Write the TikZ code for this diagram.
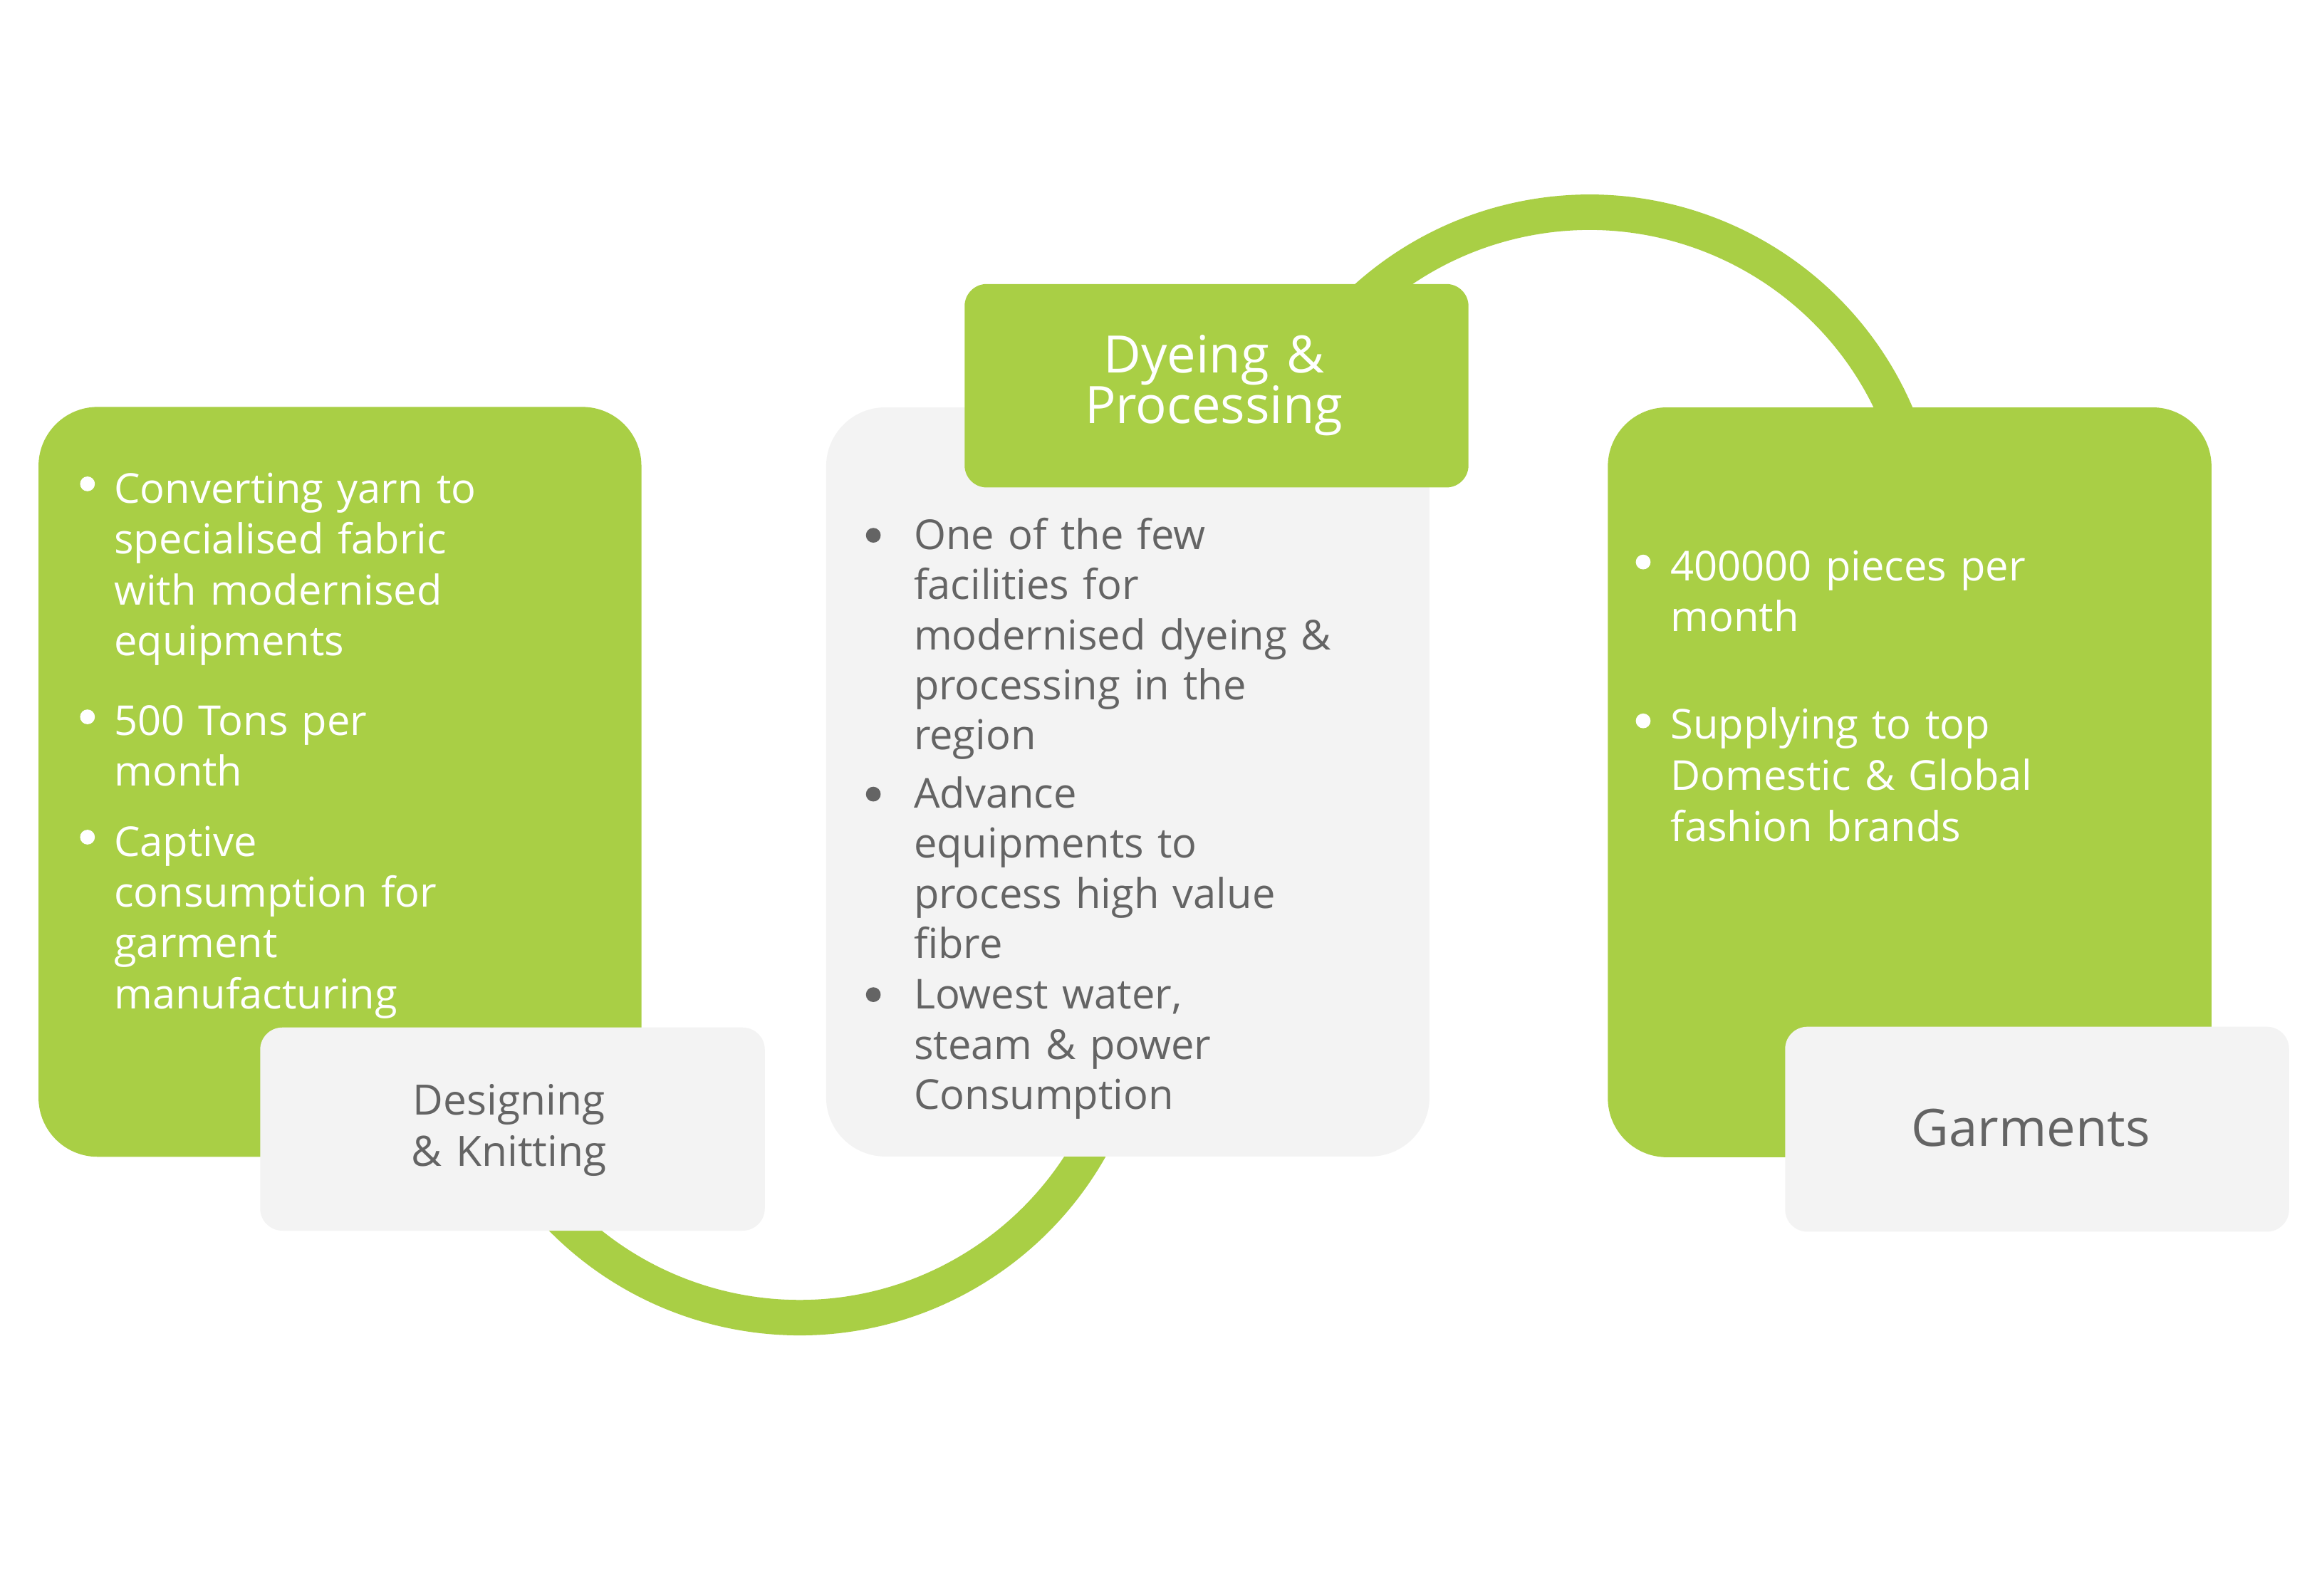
\documentclass[tikz,border=0pt]{standalone}
\usepackage{fontspec}
\setmainfont{Open Sans}
\definecolor{leaf}{HTML}{A9CF45}
\definecolor{panel}{HTML}{F3F3F3}
\definecolor{ink}{HTML}{646464}
\begin{document}
\begin{tikzpicture}[x=1mm,y=1mm,
  ring/.style={draw=leaf,line width=24mm},
  bigbox/.style={rounded corners=40mm,minimum width=408mm,minimum height=507.5mm,anchor=south west,inner sep=0pt,draw=none},
  tagbox/.style={rounded corners=15mm,minimum width=341mm,minimum height=138mm,anchor=south west,inner sep=0pt,draw=none},
  greenfill/.style={fill=leaf},
  grayfill/.style={fill=panel},
  bodytext/.style={inner sep=0pt,anchor=base west,text width=400mm,align=left},
  lefttext/.style={bodytext,text=white,font=\fontsize{79.3pt}{97.9pt}\selectfont},
  midtext/.style={bodytext,text=ink,font=\fontsize{79.3pt}{96.2pt}\selectfont},
  righttext/.style={bodytext,text=white,font=\fontsize{79.3pt}{98.2pt}\selectfont},
  titletext/.style={inner sep=0pt,anchor=base,text width=330mm,align=center},
  dot/.style={circle,inner sep=0pt,minimum size=10mm,draw=none}
]
\useasboundingbox (0,0) rectangle (1568,1080);
\fill[white] (0,0) rectangle (1568,1080);

% rings behind the boxes
\coordinate (tc) at (1075.6,710.3);
\coordinate (bc) at (541,414.2);
\draw[ring] ([shift={(15:226mm)}]tc) arc[start angle=15,end angle=140,radius=226mm];
\draw[ring] ([shift={(215:226mm)}]bc) arc[start angle=215,end angle=340,radius=226mm];

% big boxes
\node[bigbox,greenfill] (L) at (26,297) {};
\node[bigbox,grayfill,minimum width=408.3mm,minimum height=507mm] (M) at (559,297.2) {};
\node[bigbox,greenfill,minimum width=408.5mm] (R) at (1088,296.7) {};

% tag boxes
\node[tagbox,grayfill,minimum width=341.5mm,minimum height=137.5mm] (DK) at (176,247) {};
\node[tagbox,greenfill,minimum height=137.7mm] (DP) at (652.7,750) {};
\node[tagbox,grayfill,minimum height=138.7mm] (G) at (1208,246.3) {};

% tag titles
\node[titletext,text=ink,font=\fontsize{80.5pt}{99.6pt}\selectfont] (DKt) at (344.5,325.5) {Designing\\\&~Knitting};
\node[titletext,text=white,font=\fontsize{99.3pt}{95.9pt}\selectfont] (DPt) at (821.5,827.7) {Dyeing \&\\Processing};
\node[titletext,text=ink,font=\fontsize{99.3pt}{99.6pt}\selectfont] (Gt) at (1374.4,304) {Garments};

% left box bullets
\node[dot,fill=white] (lb1) at (59.2,752.5) {};
\node[dot,fill=white] (lb2) at (59.2,594.8) {};
\node[dot,fill=white] (lb3) at (59.2,513.4) {};
\node[lefttext] (l1) at (77.2,739.5) {Converting yarn to\\specialised fabric\\with modernised\\equipments};
\node[lefttext] (l2) at (77.2,582.5) {500 Tons per\\month};
\node[lefttext] (l3) at (77.2,500.5) {Captive\\consumption for\\garment\\manufacturing};

% middle box bullets
\node[dot,fill=ink] (mb1) at (591,717.7) {};
\node[dot,fill=ink] (mb2) at (591,542.5) {};
\node[dot,fill=ink] (mb3) at (591,406.8) {};
\node[midtext] (m1) at (618.4,708) {One of the few\\facilities for\\modernised dyeing \&\\processing in the\\region};
\node[midtext] (m2) at (618.4,533) {Advance\\equipments to\\process high value\\fibre};
\node[midtext] (m3) at (618.4,397) {Lowest water,\\steam \& power\\Consumption};

% right box bullets
\node[dot,fill=white] (rb1) at (1112,699.6) {};
\node[dot,fill=white] (rb2) at (1112,592.1) {};
\node[righttext] (r1) at (1130.5,687.1) {400000 pieces per\\month};
\node[righttext] (r2) at (1130.5,579.7) {Supplying to top\\Domestic \& Global\\fashion brands};
\end{tikzpicture}
\end{document}
